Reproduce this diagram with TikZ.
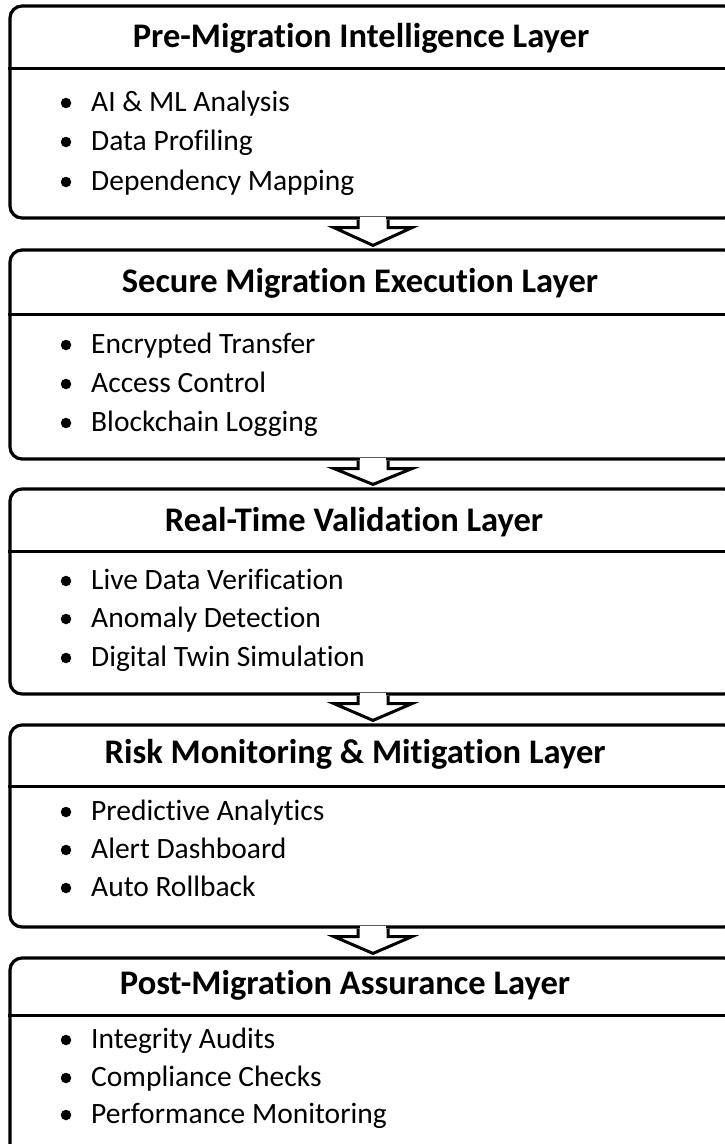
\documentclass[tikz,border=0pt]{standalone}
\usepackage{fontspec}
\setmainfont{Carlito}[Ligatures=NoCommon]
\usetikzlibrary{calc}
\tikzset{
  layer/.style={draw=black, line width=3.2pt, rounded corners=12pt, fill=white, minimum width=726pt, inner sep=0pt},
  divider/.style={draw=black, line width=3pt},
  head/.style={anchor=base, inner sep=0pt, font=\bfseries\fontsize{34.5}{38}\selectfont},
  item/.style={anchor=base west, inner sep=0pt, font=\fontsize{29.5}{33}\selectfont},
  dot/.style={circle, fill=black, inner sep=0pt, minimum size=10.5pt},
  arrowline/.style={draw=black, line width=3pt, fill=white, line join=miter},
}
\newcommand{\blockarr}[2]{%
  \fill[white] ([xshift=-13.4pt,yshift=3pt]#1.south) rectangle ([xshift=13.4pt,yshift=-6pt]#1.south);
  \coordinate (tip#1) at ([yshift=3pt]#2.north);
  \draw[arrowline] ([xshift=-15pt]#1.south) -- ++(0,8) -- ++(-24,0) -- (tip#1)
     -- ([xshift=39pt,yshift=-8pt]#1.south) -- ++(-24,0) -- ([xshift=15pt]#1.south);
}
\begin{document}
\begin{tikzpicture}[x=1pt,y=-1pt]
\useasboundingbox (0,0) rectangle (725,1144);
\fill[white] (0,0) rectangle (725,1144);

% boxes
\node[layer, minimum height=212pt] (L1) at (373,112) {};
\node[layer, minimum height=209pt] (L2) at (373,354.5) {};
\node[layer, minimum height=205pt] (L3) at (373,591.5) {};
\node[layer, minimum height=202pt] (L4) at (373,826) {};
\node[layer, minimum height=200pt] (L5) at (373,1058) {};

% dividers
\coordinate (d1) at (0,68);
\coordinate (d2) at (0,314);
\coordinate (d3) at (0,551);
\coordinate (d4) at (0,786);
\coordinate (d5) at (0,1015);
\foreach \i in {1,...,5}{
  \draw[divider] (L\i.west |- d\i) -- (L\i.east |- d\i);
}

% headers
\node[head] (h1) at (361,47) {Pre-Migration Intelligence Layer};
\node[head] (h2) at (360,292) {Secure Migration Execution Layer};
\node[head] (h3) at (354,531) {Real-Time Validation Layer};
\node[head] (h4) at (355,763) {Risk Monitoring \& Mitigation Layer};
\node[head] (h5) at (345,994) {Post-Migration Assurance Layer};

% items
\newcommand{\bitem}[3]{%
  \node[dot] (#1d) at (66,#2-8) {};
  \node[item] (#1) at (91,#2) {#3};
}
\bitem{a1}{111}{AI \& ML Analysis}
\bitem{a2}{150}{Data Profiling}
\bitem{a3}{190}{Dependency Mapping}
\bitem{b1}{353}{Encrypted Transfer}
\bitem{b2}{392}{Access Control}
\bitem{b3}{431}{Blockchain Logging}
\bitem{c1}{589}{Live Data Verification}
\bitem{c2}{627}{Anomaly Detection}
\bitem{c3}{666}{Digital Twin Simulation}
\bitem{e1}{820}{Predictive Analytics}
\bitem{e2}{858}{Alert Dashboard}
\bitem{e3}{896}{Auto Rollback}
\bitem{f1}{1048}{Integrity Audits}
\bitem{f2}{1086}{Compliance Checks}
\bitem{f3}{1123}{Performance Monitoring}

% arrows
\blockarr{L1}{L2}
\blockarr{L2}{L3}
\blockarr{L3}{L4}
\blockarr{L4}{L5}
\end{tikzpicture}
\end{document}
